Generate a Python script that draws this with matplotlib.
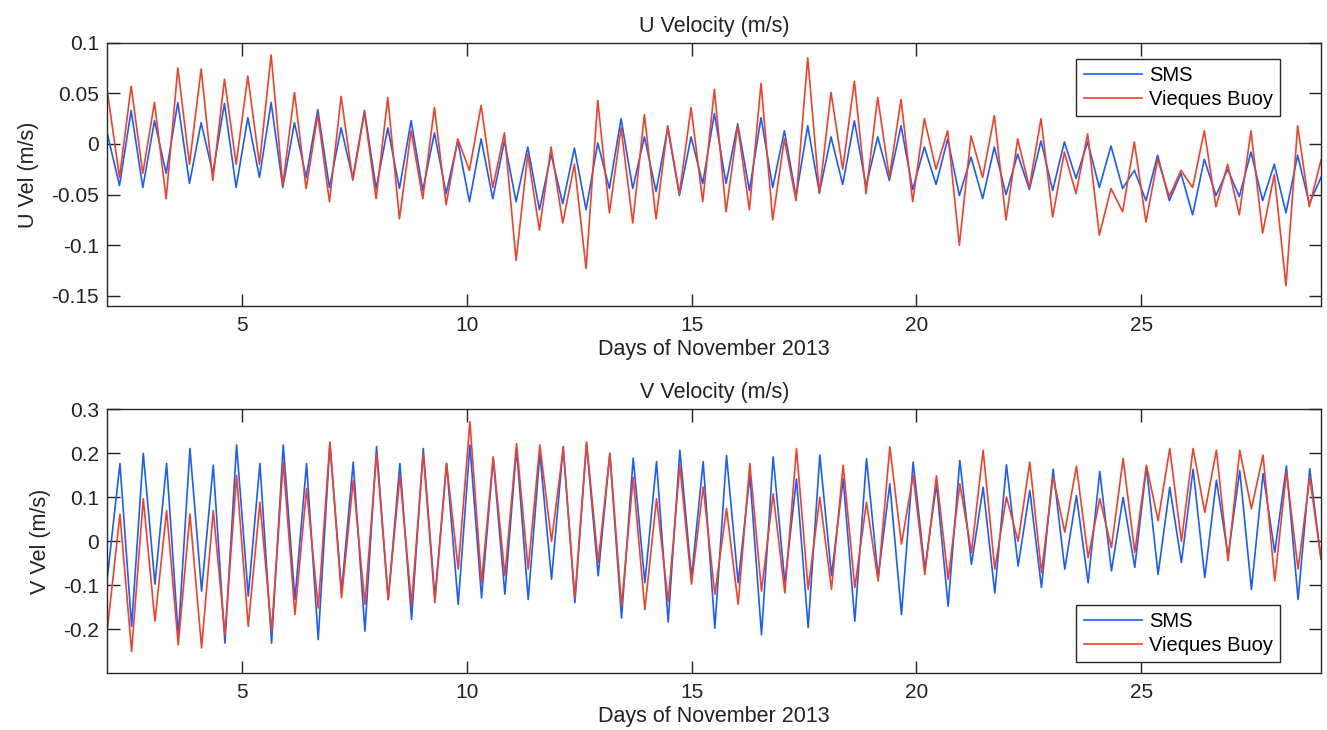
import numpy as np
import matplotlib.pyplot as plt

plt.rcParams['font.family'] = ['Liberation Sans', 'DejaVu Sans']

# tidal half-period spacing between successive extrema (days)
half_period = 0.2595

# ---------------- U velocity (m/s), extrema ----------------
u_first = 2.27          # first extremum (a trough) for both series
u_start, u_end = 2.0, 29.0

sms_u_troughs = [-0.041, -0.043, -0.029, -0.039, -0.029, -0.043, -0.033, -0.043, -0.033, -0.043,
                 -0.034, -0.044, -0.044, -0.046, -0.049, -0.057, -0.054, -0.057,
                 -0.065, -0.059, -0.065, -0.044, -0.044, -0.047, -0.051, -0.039, -0.039, -0.046,
                 -0.043, -0.052, -0.048, -0.040, -0.042, -0.036, -0.045, -0.040,
                 -0.051, -0.054, -0.050, -0.045, -0.046, -0.034, -0.043, -0.044, -0.056, -0.056,
                 -0.070, -0.051, -0.052, -0.056, -0.068, -0.059]
sms_u_peaks = [0.033, 0.023, 0.041, 0.021, 0.040, 0.026, 0.041, 0.021, 0.034, 0.016,
               0.033, 0.016, 0.023, 0.011, 0.003, 0.005, 0.003, -0.003,
               -0.010, -0.004, 0.001, 0.025, 0.007, 0.016, 0.007, 0.030, 0.020, 0.026,
               0.013, 0.018, 0.007, 0.023, 0.007, 0.018, -0.003,
               0.005, -0.013, -0.003, -0.010, 0.003, 0.002, 0.002, -0.002, -0.026, -0.011,
               -0.029, -0.015, -0.025, -0.008, -0.020, -0.011]
sms_u_ends = [0.010, -0.033]

buoy_u_troughs = [-0.033, -0.029, -0.054, -0.020, -0.036, -0.020, -0.020, -0.041, -0.044, -0.057,
                  -0.036, -0.054, -0.074, -0.054, -0.060, -0.026, -0.043, -0.115,
                  -0.085, -0.078, -0.123, -0.068, -0.078, -0.074, -0.049, -0.057, -0.067, -0.065,
                  -0.075, -0.056, -0.049, -0.025, -0.049, -0.033, -0.057, -0.025,
                  -0.100, -0.033, -0.075, -0.043, -0.072, -0.049, -0.090, -0.067, -0.077, -0.052,
                  -0.043, -0.062, -0.070, -0.088, -0.140, -0.062]
buoy_u_peaks = [0.057, 0.041, 0.075, 0.074, 0.064, 0.067, 0.088, 0.051, 0.029, 0.047,
                0.031, 0.046, 0.013, 0.036, 0.005, 0.038, 0.011,
                -0.010, -0.003, -0.020, 0.043, 0.016, 0.029, 0.018, 0.036, 0.054, 0.018,
                0.060, 0.005, 0.085, 0.051, 0.062, 0.046, 0.044, 0.025,
                0.013, 0.008, 0.028, 0.005, 0.025, -0.008, 0.010, -0.044, 0.002, -0.015,
                -0.026, 0.013, -0.020, 0.013, -0.030, 0.018]
buoy_u_ends = [0.052, -0.016]

# ---------------- V velocity (m/s) ----------------
v_first = 2.28          # first extremum (a peak)

sms_v_peaks = [0.177, 0.200, 0.177, 0.211, 0.173, 0.219, 0.177, 0.219, 0.177, 0.222,
               0.180, 0.215, 0.177, 0.211, 0.177, 0.219, 0.188, 0.211,
               0.200, 0.215, 0.222, 0.200, 0.189, 0.181, 0.207, 0.181, 0.195, 0.150,
               0.192, 0.142, 0.196, 0.142, 0.188, 0.131, 0.180, 0.130,
               0.184, 0.123, 0.174, 0.116, 0.164, 0.104, 0.159, 0.100, 0.169, 0.123,
               0.164, 0.139, 0.161, 0.154, 0.171, 0.165]
sms_v_troughs = [-0.193, -0.097, -0.216, -0.113, -0.231, -0.124, -0.231, -0.132, -0.223, -0.113,
                 -0.204, -0.132, -0.177, -0.128, -0.143, -0.128, -0.120, -0.132,
                 -0.086, -0.139, -0.078, -0.174, -0.094, -0.183, -0.082, -0.197, -0.094, -0.212,
                 -0.094, -0.196, -0.078, -0.181, -0.082, -0.166, -0.063,
                 -0.147, -0.052, -0.117, -0.056, -0.105, -0.063, -0.094, -0.067, -0.059, -0.075,
                 -0.048, -0.082, -0.033, -0.109, -0.025, -0.132]
sms_v_ends = [-0.082, -0.040]

buoy_v_peaks = [0.062, 0.097, 0.070, 0.062, 0.070, 0.150, 0.089, 0.180, 0.120, 0.226,
                0.139, 0.200, 0.150, 0.200, 0.177, 0.272, 0.192, 0.222,
                0.219, 0.211, 0.226, 0.200, 0.146, 0.097, 0.173, 0.124, 0.075, 0.177,
                0.108, 0.211, 0.100, 0.173, 0.089, 0.215, 0.150, 0.149,
                0.131, 0.207, 0.101, 0.180, 0.146, 0.171, 0.097, 0.188, 0.173, 0.211,
                0.211, 0.207, 0.207, 0.196, 0.158, 0.146]
buoy_v_troughs = [-0.250, -0.181, -0.235, -0.242, -0.212, -0.193, -0.204, -0.166, -0.151, -0.128,
                  -0.143, -0.132, -0.143, -0.139, -0.063, -0.094, -0.078, -0.063,
                  0.000, -0.128, -0.048, -0.147, -0.155, -0.136, -0.097, -0.120, -0.143, -0.113,
                  -0.117, -0.109, -0.109, -0.105, -0.090, -0.006, -0.075,
                  -0.086, -0.025, -0.063, 0.000, -0.071, 0.021, -0.037, -0.014, -0.025, 0.047,
                  0.000, 0.066, -0.044, 0.074, -0.090, -0.063]
buoy_v_ends = [-0.200, -0.040]


def build_series(first_vals, second_vals, ends, t_first):
    # interleave extrema (first, second, first, ...) and add the edge values
    vals = []
    for i in range(len(first_vals)):
        vals.append(first_vals[i])
        if i < len(second_vals):
            vals.append(second_vals[i])
    t = t_first + half_period * np.arange(len(vals))
    t = np.concatenate([[u_start], t, [u_end]])
    y = np.concatenate([[ends[0]], vals, [ends[1]]])
    return t, y


blue = '#1a5cff'
red = '#f2402a'
txt = '#222222'

fig = plt.figure(figsize=(13.27, 7.30), dpi=100)
ax1 = fig.add_axes([0.0809, 0.5808, 0.9146, 0.3607])
ax2 = fig.add_axes([0.0809, 0.0774, 0.9146, 0.3619])

t, y = build_series(sms_u_troughs, sms_u_peaks, sms_u_ends, u_first)
ax1.plot(t, y, color=blue, lw=1.2, label='SMS')
t, y = build_series(buoy_u_troughs, buoy_u_peaks, buoy_u_ends, u_first)
ax1.plot(t, y, color=red, lw=1.2, label='Vieques Buoy')

t, y = build_series(sms_v_peaks, sms_v_troughs, sms_v_ends, v_first)
ax2.plot(t, y, color=blue, lw=1.2, label='SMS')
t, y = build_series(buoy_v_peaks, buoy_v_troughs, buoy_v_ends, v_first)
ax2.plot(t, y, color=red, lw=1.2, label='Vieques Buoy')

ax1.set_ylim(-0.16, 0.1)
ax1.set_yticks([-0.15, -0.1, -0.05, 0, 0.05, 0.1])
ax1.set_yticklabels(['-0.15', '-0.1', '-0.05', '0', '0.05', '0.1'])
ax2.set_ylim(-0.3, 0.3)
ax2.set_yticks([-0.2, -0.1, 0, 0.1, 0.2, 0.3])
ax2.set_yticklabels(['-0.2', '-0.1', '0', '0.1', '0.2', '0.3'])

for ax, name, loc, anchor in [(ax1, 'U', 'upper right', (0.9662, 0.938)),
                              (ax2, 'V', 'lower right', (0.9662, 0.0436))]:
    ax.set_xlim(2, 29)
    ax.set_xticks([5, 10, 15, 20, 25])
    ax.tick_params(direction='in', length=9, width=1.0, top=True, right=True,
                   labelsize=15, colors=txt, pad=6)
    ax.tick_params(axis='x', pad=7)
    for s in ax.spines.values():
        s.set_color('#262626')
        s.set_linewidth(1.0)
    ax.set_title('%s Velocity (m/s)' % name, fontsize=15.5, color=txt, pad=8)
    ax.set_xlabel('Days of November 2013', fontsize=15.5, color=txt, labelpad=3)
    ax.set_ylabel('%s Vel (m/s)' % name, fontsize=15.5, color=txt, labelpad=9)
    leg = ax.legend(loc=loc, bbox_to_anchor=anchor, fontsize=14.5, frameon=True,
                    fancybox=False, edgecolor='#262626', framealpha=1,
                    handlelength=2.9, handletextpad=0.35, borderaxespad=0,
                    borderpad=0.35, labelspacing=0.25)
    leg.get_frame().set_linewidth(1.0)

fig.savefig('out.png', dpi=100)
